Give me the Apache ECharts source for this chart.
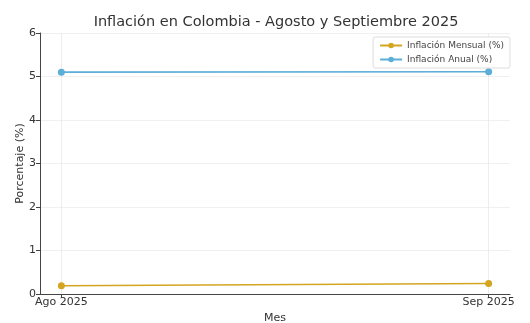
<!DOCTYPE html>
<html><head><meta charset="utf-8">
<script src="https://cdn.jsdelivr.net/npm/echarts@6/dist/echarts.min.js"></script>
<style>html,body{margin:0;padding:0;background:#fff}#c{width:530px;height:323px}</style>
</head><body><div id="c"></div>
<script>
const categories = ['Ago 2025', 'Sep 2025'];
const mensual = [0.19, 0.24];
const anual = [5.10, 5.11];
const yTicks = [0, 1, 2, 3, 4, 5, 6];

const font = 'DejaVu Sans';
const chart = echarts.init(document.getElementById('c'));
const toPts = arr => arr.map((v, i) => [i, v]);
chart.setOption({
  animation: false,
  textStyle: { fontFamily: font },
  title: {
    text: 'Inflación en Colombia - Agosto y Septiembre 2025',
    left: 271, top: 10, textAlign: 'center',
    textStyle: { fontFamily: font, fontSize: 14.5, fontWeight: 'normal', color: '#333' }
  },
  legend: {
    top: 37, right: 20, orient: 'vertical',
    itemWidth: 22, itemHeight: 7, itemGap: 5,
    padding: [4, 6, 4, 6],
    borderColor: '#ddd', borderWidth: 1, borderRadius: 2,
    backgroundColor: 'rgba(255,255,255,0.9)',
    textStyle: { fontFamily: font, fontSize: 9, color: '#444' },
    data: ['Inflación Mensual (%)', 'Inflación Anual (%)']
  },
  grid: { left: 40, right: 20, top: 33, bottom: 29, outerBoundsMode: 'none', containLabel: false },
  xAxis: {
    type: 'value', min: -0.05, max: 1.05,
    name: 'Mes', nameLocation: 'middle', nameGap: 18,
    nameTextStyle: { fontFamily: font, fontSize: 11, color: '#333' },
    axisLine: { show: true, onZero: false, lineStyle: { color: '#444', width: 1 } },
    axisTick: { show: true, customValues: [0, 1], length: 4, lineStyle: { color: '#444' } },
    axisLabel: { customValues: [0, 1], formatter: v => categories[Math.round(v)], color: '#333', fontSize: 11, margin: 3, fontFamily: font },
    splitLine: { show: false }
  },
  yAxis: {
    type: 'value', min: 0, max: 6, interval: 1,
    name: 'Porcentaje (%)', nameLocation: 'middle', nameGap: 14, nameMoveOverlap: false,
    nameTextStyle: { fontFamily: font, fontSize: 11, color: '#333' },
    axisLine: { show: true, onZero: false, lineStyle: { color: '#444', width: 1 } },
    axisTick: { show: true, length: 4, lineStyle: { color: '#444' } },
    axisLabel: { color: '#333', fontSize: 11, margin: 4, fontFamily: font },
    splitLine: { show: true, lineStyle: { color: '#ececec', width: 0.8 } }
  },
  series: [
    {
      name: 'Inflación Mensual (%)', type: 'line', data: toPts(mensual),
      color: '#D4A520', symbol: 'circle', symbolSize: 7,
      itemStyle: { color: '#D4A520' },
      lineStyle: { width: 1.6, color: '#D4A520' },
      markLine: {
        silent: true, symbol: 'none', label: { show: false }, z: 1,
        lineStyle: { color: '#e8e8e8', width: 0.8, type: 'solid' },
        data: categories.map((c, i) => ({ xAxis: i }))
      },
      z: 3
    },
    {
      name: 'Inflación Anual (%)', type: 'line', data: toPts(anual),
      color: '#5BAED8', symbol: 'circle', symbolSize: 7,
      itemStyle: { color: '#5BAED8' },
      lineStyle: { width: 1.6, color: '#5BAED8' }, z: 3
    }
  ]
});
</script></body></html>
